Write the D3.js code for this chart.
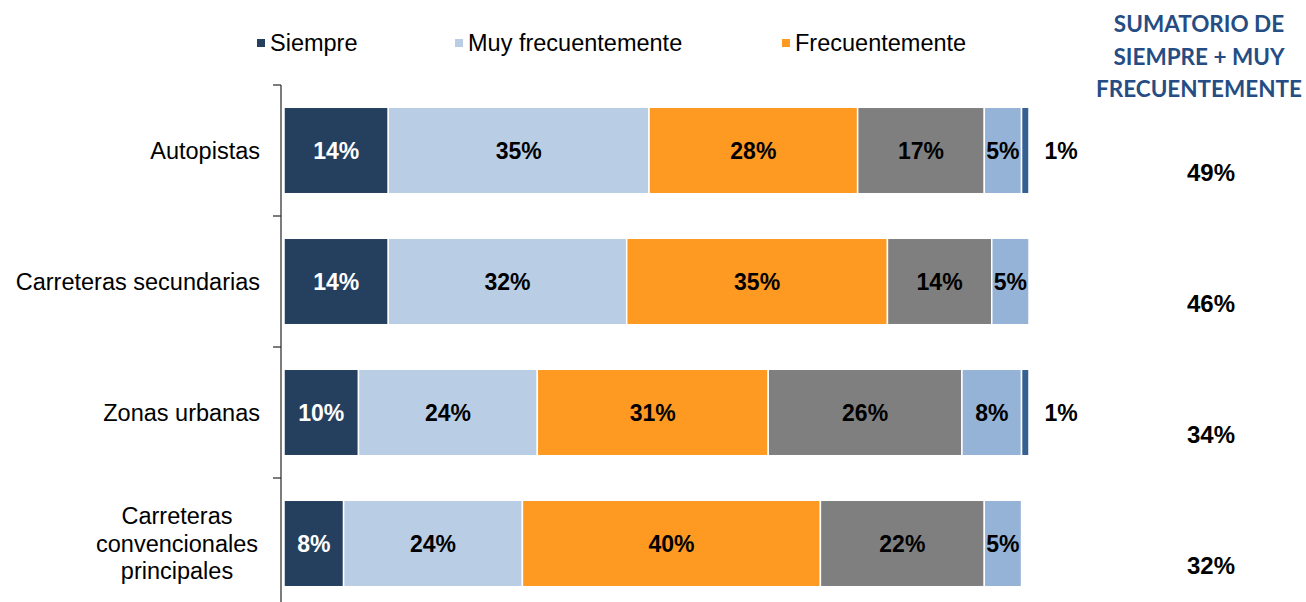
<!DOCTYPE html>
<html>
<head>
<meta charset="utf-8">
<script src="https://cdn.jsdelivr.net/npm/d3@7"></script>
<style>
body{margin:0;background:#fff;}
svg{display:block;}
</style>
</head>
<body>
<svg id="chart" width="1306" height="602"></svg>
<script>
// categories and series (percent values)
var categories=["Autopistas","Carreteras secundarias","Zonas urbanas","Carreteras convencionales principales"];
var seriesNames=["Siempre","Muy frecuentemente","Frecuentemente","Ocasionalmente","Raramente","Nunca"];
var siempre=[14,14,10,8];
var muyFrec=[35,32,24,24];
var frec=[28,35,31,40];
var ocasional=[17,14,26,22];
var raramente=[5,5,8,5];
var nunca=[1,0,1,0];
var sumatorio=["49%","46%","34%","32%"];
var colors=["#253f5f","#b9cde5","#fe9a22","#7f7f7f","#95b3d7","#376092"];
var legendShown=[0,1,2];

const margin={top:85,left:281};
var svg=d3.select("#chart");

var x=d3.scaleLinear().domain([0,100]).range([284,1029]);
var y=d3.scaleBand().domain(categories).range([85,609]).paddingInner(0.34).paddingOuter(0.17);

var allSeries=[siempre,muyFrec,frec,ocasional,raramente,nunca];
var rows=categories.map(function(c,i){
    var acc=0;
    return allSeries.map(function(s,k){
        var seg={cat:c,k:k,v:s[i],x0:acc,x1:acc+s[i]};
        acc+=s[i];
        return seg;
    });
});

// axis line with ticks on band edges
var edges=categories.map(function(c){return y(c)-y.step()*y.paddingInner()/2;});
svg.append("line")
    .attr("x1",margin.left).attr("x2",margin.left)
    .attr("y1",margin.top).attr("y2",602)
    .attr("stroke","#262626").attr("stroke-width",1.2);
svg.selectAll("line.tick").data(edges).enter().append("line")
    .attr("class","tick")
    .attr("x1",273).attr("x2",margin.left)
    .attr("y1",function(d){return d;}).attr("y2",function(d){return d;})
    .attr("stroke","#262626").attr("stroke-width",1.2);

// bars
var g=svg.selectAll("g.row").data(rows).enter().append("g").attr("class","row");
g.selectAll("rect").data(function(d){return d.filter(function(s){return s.v>0;});}).enter().append("rect")
    .attr("x",function(d){return x(d.x0);})
    .attr("width",function(d){return x(d.x1)-x(d.x0);})
    .attr("y",function(d){return y(d.cat);})
    .attr("height",y.bandwidth())
    .attr("fill",function(d){return colors[d.k];})
    .attr("stroke","#fff").attr("stroke-width",1.5);

// value labels
g.selectAll("text").data(function(d){return d.filter(function(s){return s.v>0;});}).enter().append("text")
    .attr("x",function(d){
        if(d.k==5) return x(d.x1)+32;
        return (x(d.x0)+x(d.x1))/2;
    })
    .attr("y",function(d){return y(d.cat)+y.bandwidth()/2+8;})
    .attr("text-anchor","middle")
    .style("font-family","'Liberation Sans',Arial,sans-serif")
    .style("font-weight","bold")
    .style("font-size","23px")
    .attr("fill",function(d){return d.k==0?"#fff":"#000";})
    .text(function(d){return d.v+"%";});

// category labels
svg.selectAll("text.cat").data(categories).enter().append("text")
    .attr("class","cat")
    .attr("text-anchor","middle")
    .style("font-family","'Liberation Sans',Arial,sans-serif")
    .style("font-size","23.5px")
    .attr("fill","#000")
    .each(function(d){
        var t=d3.select(this);
        var cy=y(d)+y.bandwidth()/2;
        if(d.length>25){
            var lines=["Carreteras","convencionales","principales"];
            lines.forEach(function(l,i){
                t.append("tspan").attr("x",177).attr("y",cy+8+(i-1)*27.5).text(l);
            });
        }else{
            t.attr("text-anchor","end").attr("x",260).attr("y",cy+8).text(d);
        }
    });

// legend
var leg=svg.selectAll("g.legend").data(legendShown).enter().append("g").attr("class","legend")
    .attr("transform",function(d,i){return "translate("+[257,455,782][i]+",0)";});
leg.append("rect").attr("x",0).attr("y",39).attr("width",8).attr("height",8)
    .attr("fill",function(d){return colors[d];});
leg.append("text").attr("x",13).attr("y",51)
    .style("font-family","'Liberation Sans',Arial,sans-serif")
    .style("font-size","23.5px")
    .text(function(d){return seriesNames[d];});

// sumatorio column
var header=["SUMATORIO DE","SIEMPRE + MUY","FRECUENTEMENTE"];
svg.selectAll("text.hdr").data(header).enter().append("text")
    .attr("class","hdr")
    .attr("x",1199).attr("y",function(d,i){return 32+i*32.5;})
    .attr("text-anchor","middle")
    .style("font-family","Lato,'Open Sans',sans-serif")
    .style("font-weight","bold")
    .style("font-size","22.5px")
    .attr("fill","#254d84")
    .text(function(d){return d;});

svg.selectAll("text.sum").data(sumatorio).enter().append("text")
    .attr("class","sum")
    .attr("x",1211)
    .attr("y",function(d,i){return y(categories[i])+y.bandwidth()/2+30;})
    .attr("text-anchor","middle")
    .style("font-family","'Liberation Sans',Arial,sans-serif")
    .style("font-weight","bold")
    .style("font-size","24px")
    .text(function(d){return d;});
</script>
</body>
</html>
